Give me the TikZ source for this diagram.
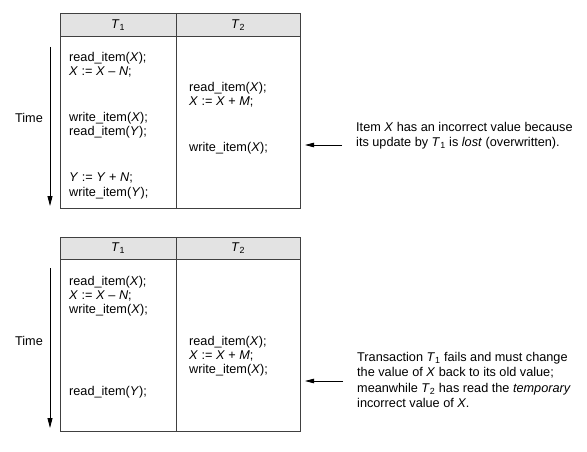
\documentclass[tikz,border=0pt]{standalone}
\usepackage{fontspec}
\setmainfont{Liberation Sans}
\usetikzlibrary{arrows.meta}
\newcommand{\vi}[1]{\textit{#1}}
\tikzset{
  every node/.style={font=\fontsize{12.7}{14}\selectfont, inner sep=0pt},
  ln/.style={anchor=west, text height=9pt, text depth=2.8pt},
  hd/.style={text height=9pt, text depth=2.8pt},
  frame/.style={draw=black!75, line width=0.8pt},
  headfill/.style={fill=black!11},
  tarrow/.style={line width=0.8pt, -{Triangle[length=10pt,width=5pt]}},
  parrow/.style={line width=0.8pt, -{Triangle[length=9pt,width=4.5pt]}},
  note/.style={anchor=west, align=left, font=\fontsize{12.7}{15.2}\selectfont}
}
\begin{document}
\begin{tikzpicture}[x=1pt,y=-1pt]
\useasboundingbox (0,0) rectangle (587,452);
% ---------- top table ----------
\fill[headfill] (60,13) rectangle (300,36);
\draw[frame] (60,13) rectangle (300,208);
\draw[frame] (60,36) -- (300,36);
\draw[frame] (176,13) -- (176,208);
\node[hd] (h1a) at (118,25) {\vi{T}\textsubscript{1}};
\node[hd] (h2a) at (238,25) {\vi{T}\textsubscript{2}};
\node (timea) at (29,118) {Time};
\coordinate (ta1) at (50,47);
\coordinate (ta2) at (50,206);
\draw[tarrow] (ta1) -- (ta2);
\node[ln] (a1) at (69,58) {read\_item(\vi{X});};
\node[ln] (a2) at (69,72) {\vi{X} := \vi{X} – \vi{N};};
\node[ln] (a3) at (189,88) {read\_item(\vi{X});};
\node[ln] (a4) at (189,102) {\vi{X} := \vi{X} + \vi{M};};
\node[ln] (a5) at (69,118) {write\_item(\vi{X});};
\node[ln] (a6) at (69,132) {read\_item(\vi{Y});};
\node[ln] (a7) at (189,148) {write\_item(\vi{X});};
\node[ln] (a8) at (69,178) {\vi{Y} := \vi{Y} + \vi{N};};
\node[ln] (a9) at (69,193) {write\_item(\vi{Y});};
\node[note] (na) at (356,136) {Item \vi{X} has an incorrect value because\\its update by \vi{T}\textsubscript{1} is \vi{lost} (overwritten).};
\coordinate (pa) at (305,145);
\draw[parrow] (na.west |- pa) ++(-14,0) -- (pa);
% ---------- bottom table ----------
\fill[headfill] (60,237) rectangle (300,259);
\draw[frame] (60,237) rectangle (300,431);
\draw[frame] (60,259) -- (300,259);
\draw[frame] (176,237) -- (176,431);
\node[hd] (h1b) at (118,248) {\vi{T}\textsubscript{1}};
\node[hd] (h2b) at (238,248) {\vi{T}\textsubscript{2}};
\node (timeb) at (29,341) {Time};
\coordinate (tb1) at (50,268);
\coordinate (tb2) at (50,428);
\draw[tarrow] (tb1) -- (tb2);
\node[ln] (b1) at (69,282) {read\_item(\vi{X});};
\node[ln] (b2) at (69,296) {\vi{X} := \vi{X} – \vi{N};};
\node[ln] (b3) at (69,310) {write\_item(\vi{X});};
\node[ln] (b4) at (189,342) {read\_item(\vi{X});};
\node[ln] (b5) at (189,356) {\vi{X} := \vi{X} + \vi{M};};
\node[ln] (b6) at (189,370) {write\_item(\vi{X});};
\node[ln] (b7) at (69,392) {read\_item(\vi{Y});};
\node[note] (nb) at (357,380) {Transaction \vi{T}\textsubscript{1} fails and must change\\the value of \vi{X} back to its old value;\\meanwhile \vi{T}\textsubscript{2} has read the \vi{temporary}\\incorrect value of \vi{X}.};
\coordinate (pb) at (305,381);
\draw[parrow] (nb.west |- pb) ++(-14,0) -- (pb);
\end{tikzpicture}
\end{document}
